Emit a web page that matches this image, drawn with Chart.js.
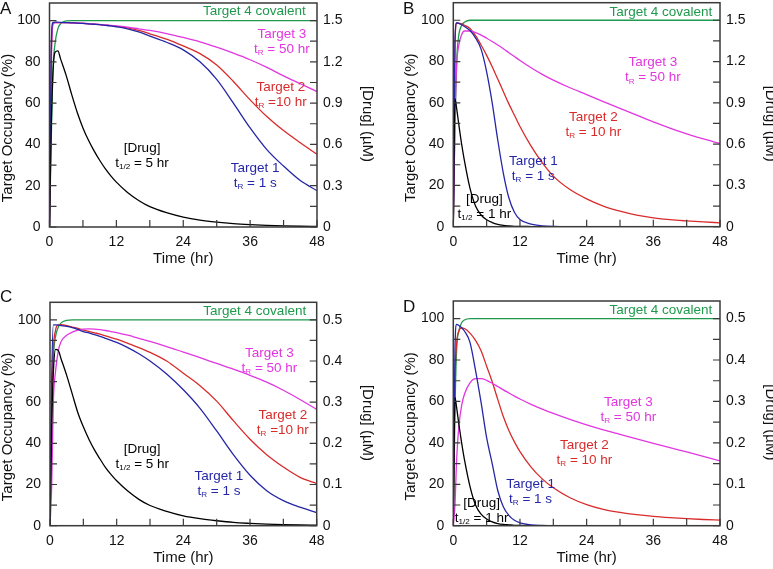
<!DOCTYPE html>
<html><head><meta charset="utf-8">
<script src="https://cdn.jsdelivr.net/npm/chart.js@4/dist/chart.umd.min.js"></script>
<style>
html,body{margin:0;padding:0;background:#fff;overflow:hidden;width:773px;height:569px;position:relative;}
canvas{position:absolute;}
</style></head><body>
<canvas id="cA" width="386" height="275" style="left:0px;top:0px"></canvas>
<canvas id="cB" width="400" height="275" style="left:386px;top:0px"></canvas>
<canvas id="cC" width="386" height="284" style="left:0px;top:285px"></canvas>
<canvas id="cD" width="400" height="284" style="left:386px;top:285px"></canvas>
<script>
// ---- data (time in hr; occupancy in %; drug in µM) ----
const times = [0, 0.3, 0.6, 1, 1.5, 2, 3, 4, 5, 6, 7, 8, 9, 10, 11, 12, 14, 16, 18, 21, 24, 27, 30, 33, 36, 39, 42, 45, 48];

const aTarget1 = [0, 85, 99, 99.2, 99.2, 99.1, 99, 98.9, 98.8, 98.6, 98.4, 98.2, 98, 97.7, 97.4, 97, 96, 94.5, 92.5, 89.5, 85.8, 80, 71.5, 60, 48, 37.5, 29.5, 22.5, 17.6];
const aTarget2 = [0, 80, 98.5, 99, 99, 99, 99, 98.9, 98.8, 98.6, 98.4, 98.2, 98, 97.8, 97.5, 97.2, 96.4, 95.2, 93.6, 91, 87.7, 84, 78.5, 70.5, 61.6, 53.5, 46.7, 40.8, 35.2];
const aTarget3 = [0, 75, 98, 99, 99, 99, 99, 98.9, 98.8, 98.7, 98.5, 98.3, 98.1, 97.9, 97.6, 97.4, 96.8, 96, 95.2, 93.7, 91.8, 89.7, 87.1, 84.2, 81, 77.3, 73.2, 69.4, 65.6];
const aTarget4 = [0, 40, 75, 89, 96, 98.5, 99.8, 100, 100, 100, 100, 100, 100, 100, 100, 100, 100, 100, 100, 100, 100, 100, 100, 100, 100, 100, 100, 100, 100];
const aDrug = [0, 0.7, 1.1, 1.27, 1.28, 1.22, 1.1, 0.96, 0.83, 0.72, 0.63, 0.553, 0.485, 0.424, 0.372, 0.326, 0.251, 0.193, 0.148, 0.104, 0.072, 0.05, 0.035, 0.024, 0.017, 0.012, 0.008, 0.0055, 0.004];

const bTarget1 = [0, 90, 98.8, 98.5, 97.8, 97, 95, 91.5, 86, 75, 60, 42, 26, 14, 7, 3.5, 1.2, 0.4, 0.1, 0, 0, 0, 0, 0, 0, 0, 0, 0, 0];
const bTarget2 = [0, 88, 98.5, 98.6, 98.2, 97.6, 96, 92.5, 88, 83, 77.5, 71.5, 65.5, 59.5, 54, 48.5, 39, 31, 24.5, 18, 13.5, 10, 7.5, 5.6, 4.3, 3.4, 2.8, 2.3, 1.9];
const bTarget3 = [0, 50, 78, 88, 93, 94.8, 94.8, 94, 92.8, 91.3, 89.7, 88, 86.2, 84.3, 82.4, 80.5, 77, 73.8, 71, 67.3, 64, 60.6, 57.3, 54, 50.8, 47.8, 45, 42.5, 40.3];
const bTarget4 = [0, 50, 80, 93, 97.5, 99, 100, 100, 100, 100, 100, 100, 100, 100, 100, 100, 100, 100, 100, 100, 100, 100, 100, 100, 100, 100, 100, 100, 100];
const bDrug = [0, 0.93, 0.86, 0.74, 0.6, 0.48, 0.28, 0.15, 0.085, 0.05, 0.03, 0.017, 0.01, 0.006, 0.003, 0.002, 0.001, 0, 0, 0, 0, 0, 0, 0, 0, 0, 0, 0, 0];

const cTarget1 = [0, 70, 97.5, 97.5, 97.4, 97.2, 96.8, 96.2, 95.3, 94.3, 93.6, 92.8, 92, 91, 90, 89, 86.5, 83.5, 80, 73.7, 66, 57, 46, 34.5, 24.5, 17, 12.2, 9, 6.3];
const cTarget2 = [0, 55, 85, 95, 97.5, 97.6, 97.2, 96.5, 95.8, 95, 94.4, 93.7, 93, 92.2, 91.4, 90.6, 88.6, 86.5, 84.2, 80, 74, 68, 60.5, 51, 42, 34.5, 28.5, 23.5, 20.5];
const cTarget3 = [0, 19, 60, 75, 85, 89.5, 92.5, 94, 95, 95.5, 95.6, 95.5, 95.2, 94.8, 94.3, 93.8, 92.5, 91, 89.5, 87, 84.3, 81.6, 78.8, 76, 73, 69.7, 65.8, 61.3, 56.5];
const cTarget4 = [0, 60, 82, 92, 96.5, 98.5, 99.7, 100, 100, 100, 100, 100, 100, 100, 100, 100, 100, 100, 100, 100, 100, 100, 100, 100, 100, 100, 100, 100, 100];
const cDrug = [0, 0.24, 0.37, 0.428, 0.425, 0.405, 0.365, 0.32, 0.275, 0.24, 0.21, 0.184, 0.162, 0.141, 0.124, 0.109, 0.084, 0.064, 0.049, 0.035, 0.024, 0.017, 0.012, 0.008, 0.0057, 0.004, 0.0027, 0.0018, 0.0013];

const dTarget1 = [0, 85, 97.2, 96.7, 95.6, 94, 88.5, 75, 59.5, 42.5, 30, 17, 9.2, 5, 2.6, 1.4, 0.4, 0.1, 0, 0, 0, 0, 0, 0, 0, 0, 0, 0, 0];
const dTarget2 = [0, 70, 88, 94, 95.5, 95.2, 93, 89.5, 84.5, 77, 69.5, 61, 52.7, 46, 40.5, 35.8, 28.3, 22.6, 18.3, 13.5, 10.2, 7.9, 6.4, 5.3, 4.5, 3.9, 3.4, 3, 2.7];
const dTarget3 = [0, 10, 32, 48, 58, 63.5, 69, 71, 71, 70.2, 68.8, 67.2, 65.6, 64.1, 62.6, 61.2, 58.6, 56.3, 54.2, 51.3, 48.7, 46.3, 44.1, 41.9, 39.8, 37.7, 35.6, 33.5, 31.3];
const dTarget4 = [0, 55, 85, 94, 98, 99.3, 100, 100, 100, 100, 100, 100, 100, 100, 100, 100, 100, 100, 100, 100, 100, 100, 100, 100, 100, 100, 100, 100, 100];
const dDrug = [0, 0.31, 0.285, 0.245, 0.2, 0.16, 0.095, 0.05, 0.028, 0.016, 0.009, 0.005, 0.003, 0.002, 0.001, 0.0007, 0.0003, 0, 0, 0, 0, 0, 0, 0, 0, 0, 0, 0, 0];

// ---- ticks ----
const xTickValues = [0, 6, 12, 18, 24, 30, 36, 42, 48];
const xTickLabels = [0, 12, 24, 36, 48];
const occTickValues = [0, 10, 20, 30, 40, 50, 60, 70, 80, 90, 100];
const occTickLabels = [0, 20, 40, 60, 80, 100];
const drugTicksHigh = [0, 0.15, 0.3, 0.45, 0.6, 0.75, 0.9, 1.05, 1.2, 1.35, 1.5];
const drugLabelsHigh = ['0', '0.3', '0.6', '0.9', '1.2', '1.5'];
const drugTicksLow = [0, 0.05, 0.1, 0.15, 0.2, 0.25, 0.3, 0.35, 0.4, 0.45, 0.5];
const drugLabelsLow = ['0', '0.1', '0.2', '0.3', '0.4', '0.5'];

const COLORS = {t1: '#2626a8', t2: '#d92b2b', t3: '#e236e0', t4: '#1f9a4c', drug: '#000000'};
const FONT = "'Liberation Sans', Arial, sans-serif";

Chart.defaults.font.family = FONT;

function parseRich(str) {
  const re = /_\{([^}]*)\}|_(.)/g;
  const parts = []; let last = 0, m;
  while ((m = re.exec(str)) !== null) {
    if (m.index > last) parts.push({t: str.slice(last, m.index), sub: false});
    parts.push({t: m[1] !== undefined ? m[1] : m[2], sub: true});
    last = re.lastIndex;
  }
  if (last < str.length) parts.push({t: str.slice(last), sub: false});
  return parts;
}
function drawRich(ctx, str, x, y, align, size) {
  const parts = parseRich(str);
  const subSize = size * 0.6;
  let w = 0;
  parts.forEach(p => { ctx.font = (p.sub ? subSize : size) + 'px ' + FONT; p.w = ctx.measureText(p.t).width; w += p.w; });
  let cx = align === 'right' ? x - w : (align === 'center' ? x - w / 2 : x);
  ctx.textAlign = 'left'; ctx.textBaseline = 'middle';
  parts.forEach(p => {
    ctx.font = (p.sub ? subSize : size) + 'px ' + FONT;
    ctx.fillText(p.t, cx, p.sub ? y + 3.5 : y);
    cx += p.w;
  });
}

const decor = {
  id: 'decor',
  afterDatasetsDraw(chart, args, o) {
    const {ctx, chartArea: a, scales} = chart;
    ctx.save();
    ctx.strokeStyle = '#3a3a3a'; ctx.lineWidth = 1.5;
    ctx.strokeRect(a.left, a.top, a.right - a.left, a.bottom - a.top);
    const L = 7;
    ctx.lineWidth = 1.2; ctx.strokeStyle = '#3a3a3a';
    ctx.beginPath();
    scales.x.ticks.forEach(t => { const p = scales.x.getPixelForValue(t.value); ctx.moveTo(p, a.bottom); ctx.lineTo(p, a.bottom - L); });
    scales.y.ticks.forEach(t => { const p = scales.y.getPixelForValue(t.value); ctx.moveTo(a.left, p); ctx.lineTo(a.left + L, p); });
    scales.y2.ticks.forEach(t => { const p = scales.y2.getPixelForValue(t.value); ctx.moveTo(a.right, p); ctx.lineTo(a.right - L, p); });
    ctx.stroke();
    (o.notes || []).forEach(n => {
      ctx.fillStyle = n.color;
      const px = scales.x.getPixelForValue(n.x), py = scales.y.getPixelForValue(n.y);
      n.lines.forEach((ln, i) => drawRich(ctx, ln, px, py + i * 15, n.align || 'center', 13.5));
    });
    ctx.fillStyle = '#111';
    ctx.font = '15px ' + FONT; ctx.textAlign = 'center'; ctx.textBaseline = 'middle';
    const cy = (a.top + a.bottom) / 2;
    ctx.fillText('Time (hr)', (a.left + a.right) / 2, a.bottom + 32);
    ctx.save(); ctx.translate(a.left - 42, cy + 13); ctx.rotate(-Math.PI / 2);
    ctx.fillText('Target Occupancy (%)', 0, 0); ctx.restore();
    ctx.save(); ctx.translate(a.right + 50.5, cy + 9); ctx.rotate(Math.PI / 2);
    ctx.fillText('[Drug] (\u00b5M)', 0, 0); ctx.restore();
    ctx.font = '17px ' + FONT; ctx.textAlign = 'left'; ctx.textBaseline = 'alphabetic';
    ctx.fillText(o.letter, o.letterPos[0], o.letterPos[1]);
    ctx.restore();
  }
};

function ds(label, arr, color, axis) {
  return {label, data: times.map((t, i) => ({x: t, y: arr[i]})), borderColor: color, backgroundColor: color,
    borderWidth: 1.3, pointRadius: 0, fill: false, yAxisID: axis, cubicInterpolationMode: 'monotone'};
}
function near(a, b) { return Math.abs(a - b) < 1e-6; }

function makeChart(id, geo, series, drugMax, drugTicks, drugLabels, notes, letter, letterPos) {
  const labelOf = (v) => { const i = drugLabels.findIndex(s => near(parseFloat(s), v)); return i >= 0 ? drugLabels[i] : ''; };
  new Chart(document.getElementById(id), {
    type: 'line',
    data: {datasets: [
      ds('[Drug]', series.drug, COLORS.drug, 'y2'),
      ds('Target 1', series.t1, COLORS.t1, 'y'),
      ds('Target 3', series.t3, COLORS.t3, 'y'),
      ds('Target 2', series.t2, COLORS.t2, 'y'),
      ds('Target 4 covalent', series.t4, COLORS.t4, 'y')
    ]},
    options: {
      responsive: false, animation: false, devicePixelRatio: 1,
      layout: {padding: {top: geo.top, left: 0, right: 0, bottom: 0}},
      plugins: {legend: {display: false}, tooltip: {enabled: false},
        decor: {notes, letter, letterPos}},
      scales: {
        x: {type: 'linear', min: 0, max: 48,
          afterBuildTicks: s => { s.ticks = xTickValues.map(v => ({value: v})); },
          afterFit: s => { s.height = geo.xh; s.paddingLeft = 0; s.paddingRight = 0; },
          grid: {display: false, drawTicks: false}, border: {display: false},
          ticks: {autoSkip: false, maxRotation: 0, padding: 7, color: '#111', font: {size: 14},
            callback: v => xTickLabels.includes(v) ? String(v) : ''}},
        y: {type: 'linear', position: 'left', min: 0, max: 108.5,
          afterBuildTicks: s => { s.ticks = occTickValues.map(v => ({value: v})); },
          afterFit: s => { s.width = geo.left; s.paddingTop = 0; s.paddingBottom = 0; },
          grid: {display: false, drawTicks: false}, border: {display: false},
          ticks: {autoSkip: false, padding: 9, color: '#111', font: {size: 14},
            callback: v => occTickLabels.includes(v) ? String(v) : ''}},
        y2: {type: 'linear', position: 'right', min: 0, max: drugMax,
          afterBuildTicks: s => { s.ticks = drugTicks.map(v => ({value: v})); },
          afterFit: s => { s.width = geo.right; s.paddingTop = 0; s.paddingBottom = 0; },
          grid: {display: false, drawTicks: false}, border: {display: false},
          ticks: {autoSkip: false, padding: 6, color: '#111', font: {size: 14},
            callback: v => labelOf(v)}}
      }
    },
    plugins: [decor]
  });
}

makeChart('cA', {left: 49.5, right: 69, top: 3, xh: 48},
  {t1: aTarget1, t2: aTarget2, t3: aTarget3, t4: aTarget4, drug: aDrug}, 1.6275, drugTicksHigh, drugLabelsHigh,
  [
    {x: 46.0, y: 104.4, lines: ['Target 4 covalent'], color: COLORS.t4, align: 'right'},
    {x: 41.7, y: 93.2, lines: ['Target 3', 't_R = 50 hr'], color: COLORS.t3},
    {x: 41.5, y: 67.6, lines: ['Target 2', 't_R =10 hr'], color: COLORS.t2},
    {x: 16.6, y: 38.3, lines: ['[Drug]', 't_{1/2} = 5 hr'], color: COLORS.drug},
    {x: 36.9, y: 28.6, lines: ['Target 1', 't_R = 1 s'], color: COLORS.t1}
  ], 'A', [0, 14]);

makeChart('cB', {left: 67.3, right: 66, top: 2.7, xh: 48.3},
  {t1: bTarget1, t2: bTarget2, t3: bTarget3, t4: bTarget4, drug: bDrug}, 1.6275, drugTicksHigh, drugLabelsHigh,
  [
    {x: 46.6, y: 103.9, lines: ['Target 4 covalent'], color: COLORS.t4, align: 'right'},
    {x: 35.9, y: 79.4, lines: ['Target 3', 't_R = 50 hr'], color: COLORS.t3},
    {x: 25.2, y: 52.8, lines: ['Target 2', 't_R = 10 hr'], color: COLORS.t2},
    {x: 5.6, y: 13.5, lines: ['[Drug]', 't_{1/2} = 1 hr'], color: COLORS.drug},
    {x: 14.4, y: 31.9, lines: ['Target 1', 't_R = 1 s'], color: COLORS.t1}
  ], 'B', [17, 14]);

makeChart('cC', {left: 50, right: 69.3, top: 17.3, xh: 43.3},
  {t1: cTarget1, t2: cTarget2, t3: cTarget3, t4: cTarget4, drug: cDrug}, 0.5425, drugTicksLow, drugLabelsLow,
  [
    {x: 46.1, y: 103.9, lines: ['Target 4 covalent'], color: COLORS.t4, align: 'right'},
    {x: 39.5, y: 83.8, lines: ['Target 3', 't_R = 50 hr'], color: COLORS.t3},
    {x: 41.9, y: 53.6, lines: ['Target 2', 't_R =10 hr'], color: COLORS.t2},
    {x: 16.6, y: 37.1, lines: ['[Drug]', 't_{1/2} = 5 hr'], color: COLORS.drug},
    {x: 30.4, y: 24.0, lines: ['Target 1', 't_R = 1 s'], color: COLORS.t1}
  ], 'C', [0, 16.5]);

makeChart('cD', {left: 67.3, right: 66, top: 16, xh: 43.3},
  {t1: dTarget1, t2: dTarget2, t3: dTarget3, t4: dTarget4, drug: dDrug}, 0.5425, drugTicksLow, drugLabelsLow,
  [
    {x: 46.6, y: 103.9, lines: ['Target 4 covalent'], color: COLORS.t4, align: 'right'},
    {x: 31.5, y: 59.6, lines: ['Target 3', 't_R = 50 hr'], color: COLORS.t3},
    {x: 23.6, y: 39.0, lines: ['Target 2', 't_R = 10 hr'], color: COLORS.t2},
    {x: 5.1, y: 10.8, lines: ['[Drug]', 't_{1/2} = 1 hr'], color: COLORS.drug},
    {x: 13.9, y: 20.2, lines: ['Target 1', 't_R = 1 s'], color: COLORS.t1}
  ], 'D', [17, 26.5]);
</script>
</body></html>
